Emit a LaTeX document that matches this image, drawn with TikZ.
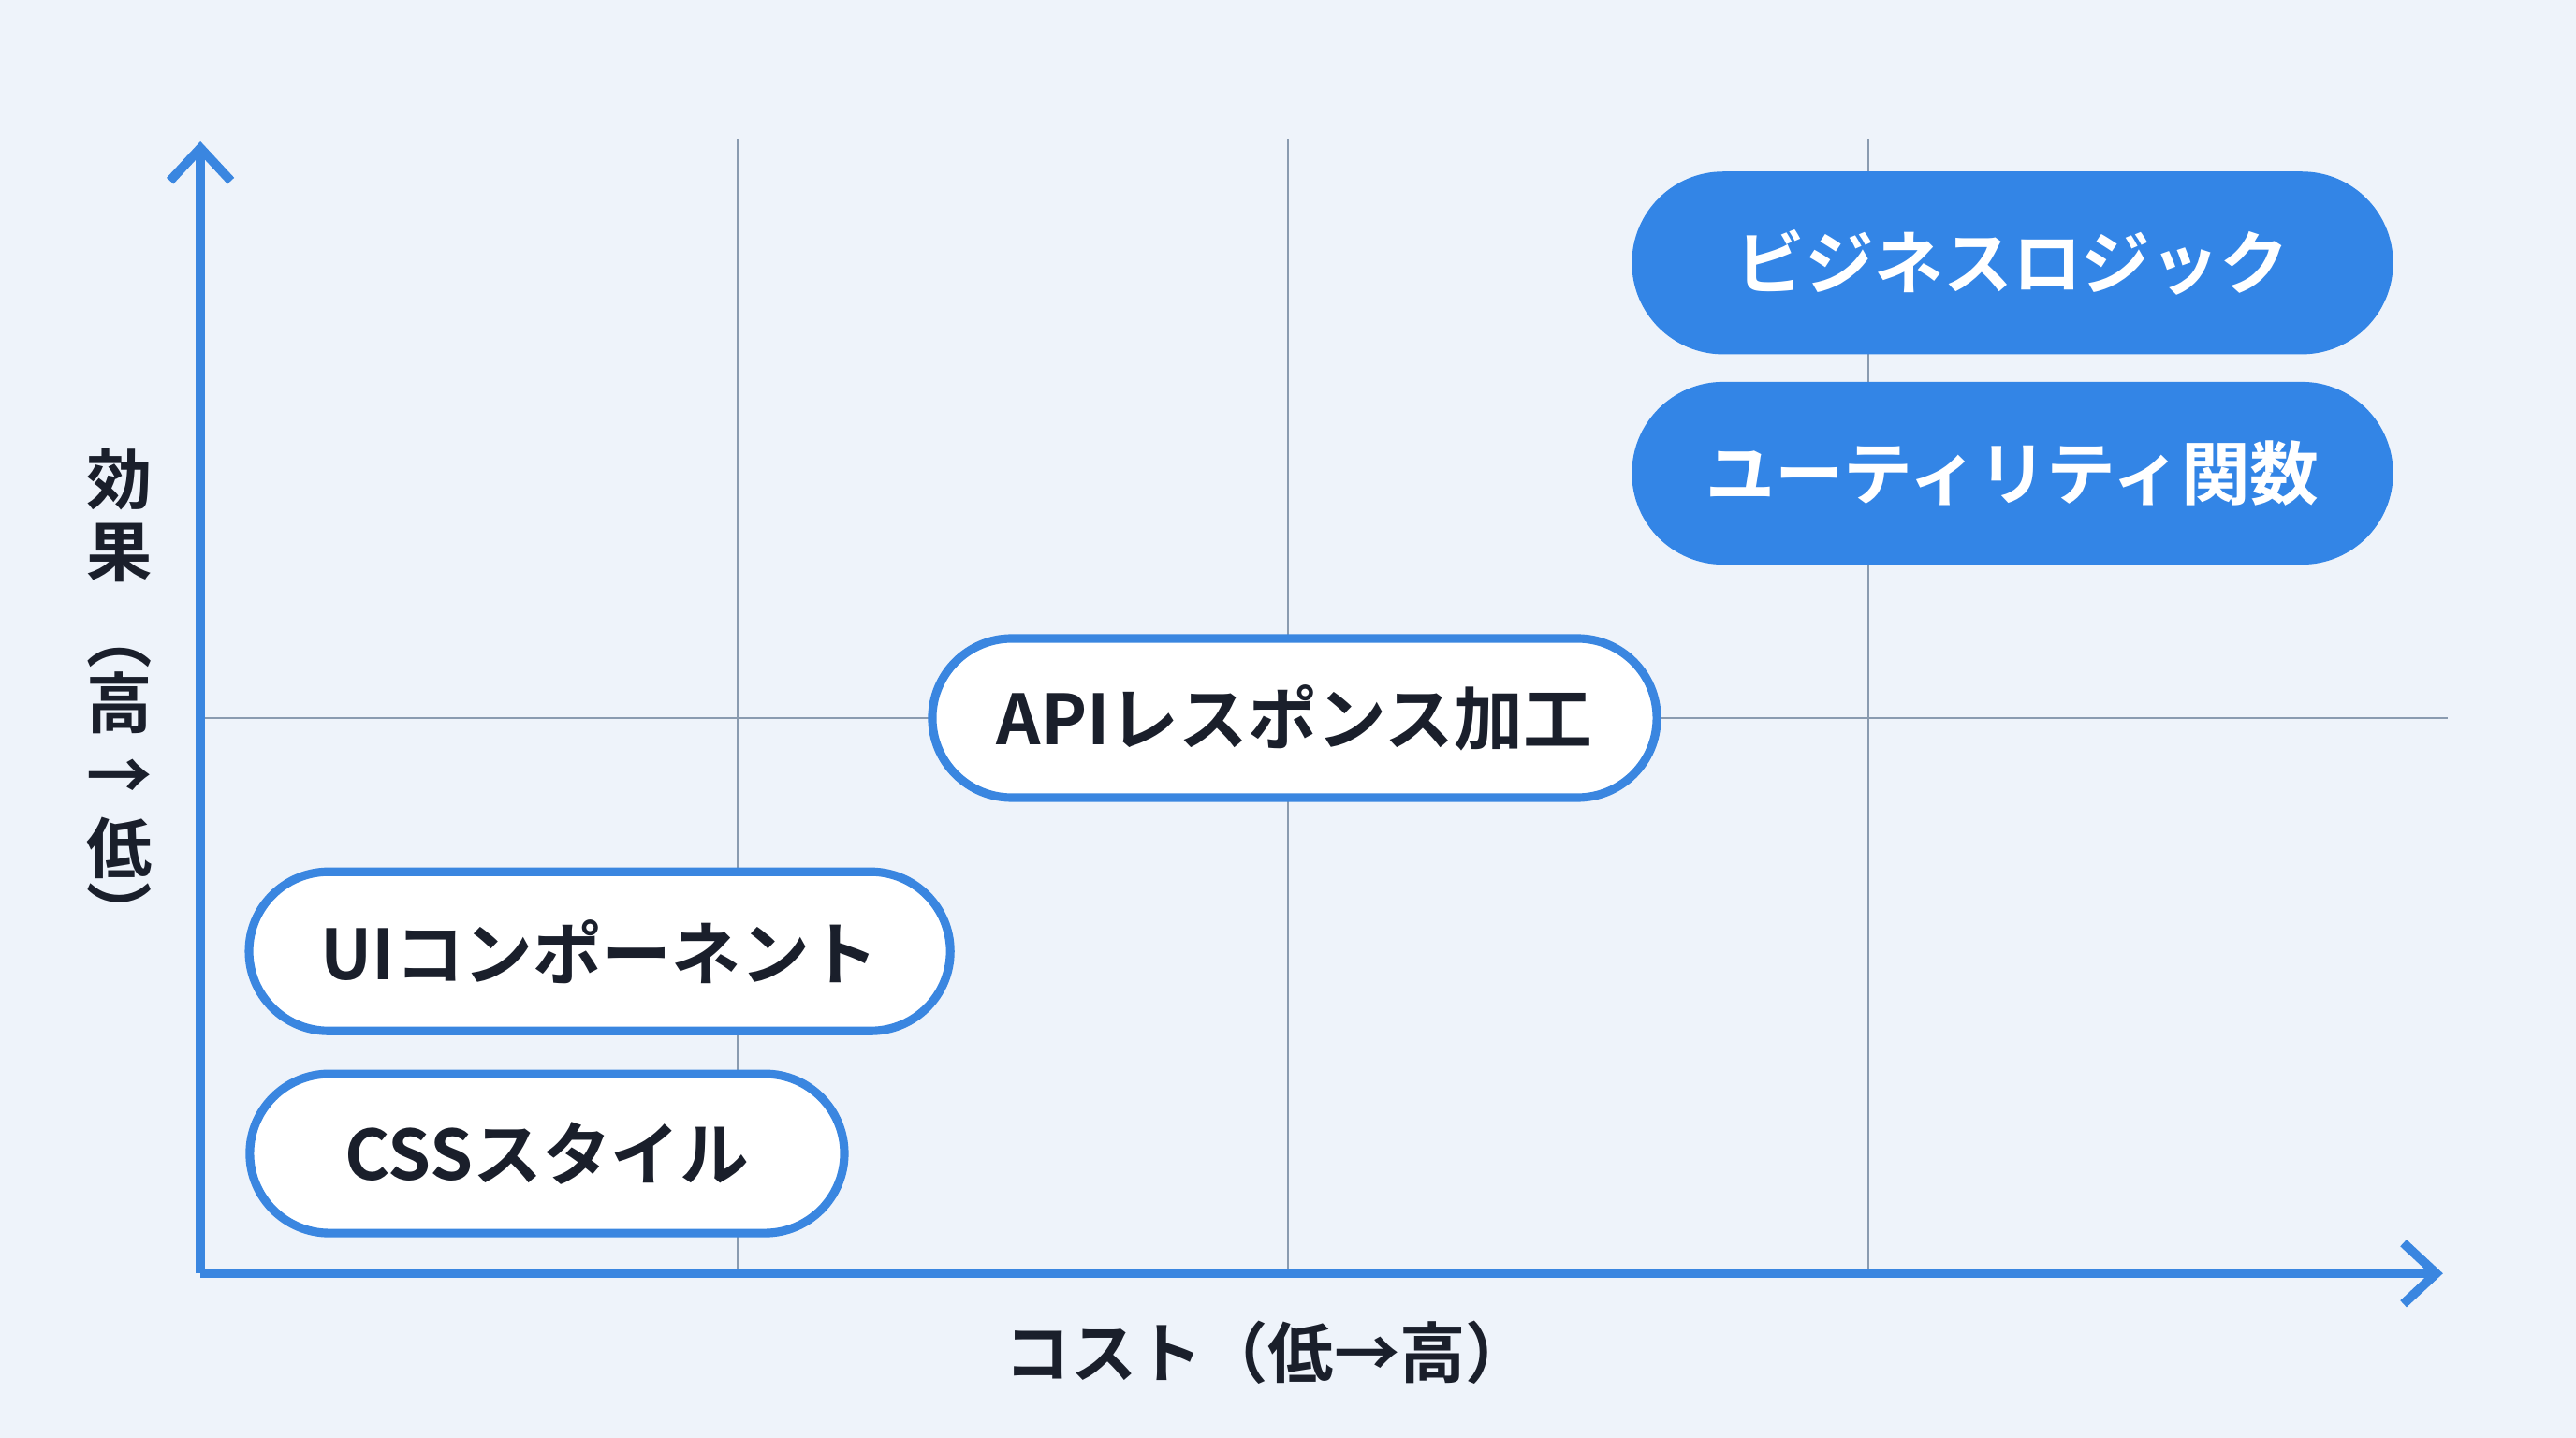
\documentclass[tikz,border=0pt]{standalone}
\usepackage{fontspec}
\setmainfont{Noto Sans CJK JP}[BoldFont={* Bold}]
\usepackage{tikz}
\usepackage{xcolor}
\usetikzlibrary{arrows.meta}
\usetikzlibrary{positioning}
\definecolor{BG}{HTML}{EEF3FA}
\definecolor{AXISBLUE}{HTML}{3A86E0}
\definecolor{FILLBLUE}{HTML}{3385E6}
\definecolor{GRID}{HTML}{8A9BB0}
\definecolor{INK}{HTML}{1A1F2B}
\tikzset{
	item/.style={draw=AXISBLUE, line width=2.6pt, rounded corners=0.85cm, fill=white,
		text=INK, font=\bfseries\fontsize{21}{25}\selectfont, minimum height=1.7cm, inner sep=0pt},
	solid item/.style={item, fill=FILLBLUE, draw=FILLBLUE, text=white, rounded corners=0.93cm, minimum height=1.86cm},
	grid/.style={draw=GRID, line width=0.6pt},
	axis/.style={draw=AXISBLUE, line width=2.8pt, -{Straight Barb[length=3.5mm, width=6.5mm, line width=2.8pt]}},
}
\begin{document}
\begin{tikzpicture}[x=0.01755cm, y=-0.01755cm]
				\fill[BG] (0,0) rectangle (1568,875);
				\useasboundingbox (0,0) rectangle (1568,875);
				% grid
				\draw[grid] (449,85) -- (449,775);
				\draw[grid] (784,85) -- (784,775);
				\draw[grid] (1137,85) -- (1137,775);
				\draw[grid] (122,437) -- (1490,437);
				% axes
				\coordinate (origin) at (122,775);
				\coordinate (ytop) at (122,86);
				\coordinate (xend) at (1487,775);
				\draw[axis] (origin) -- (ytop);
				\draw[axis] (origin) -- (xend);
				\node[text=INK, font=\bfseries\fontsize{20}{22}\selectfont, align=center] (ylabel) at (73,422)
					{効\\[0pt]果\\[4pt]︵\\[-2pt]高\\[0pt]→\\[0pt]低\\[-2pt]︶};
				\node[text=INK, font=\bfseries\fontsize{20}{24}\selectfont] (xlabel) at (772,823) {コスト（低→高）};
				% items
				\node[solid item, minimum width=8.04cm] (logic) at (1225,160) {ビジネスロジック};
				\node[solid item, minimum width=8.04cm] (util) at (1225,288) {ユーティリティ関数};
				\node[item, minimum width=7.74cm] (api) at (788,437) {APIレスポンス加工};
				\node[item, minimum width=7.49cm] (ui) at (365,579) {UIコンポーネント};
				\node[item, minimum width=6.35cm] (css) at (333,702) {CSSスタイル};
			\end{tikzpicture}
\end{document}
